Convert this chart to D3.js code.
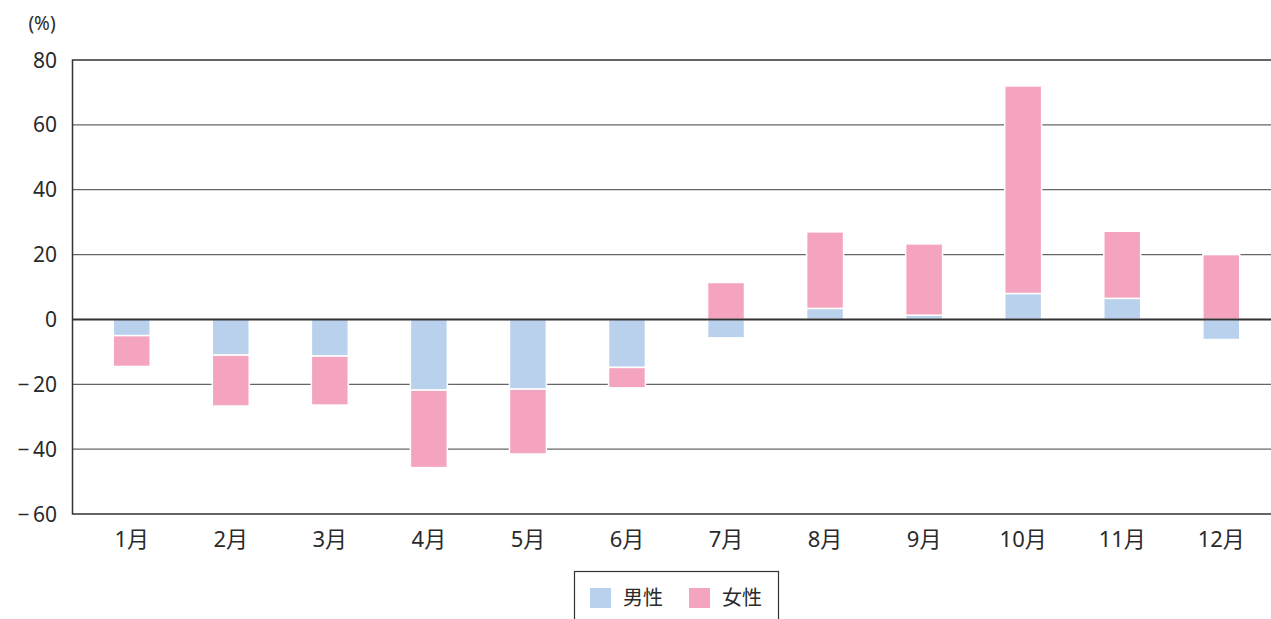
<!DOCTYPE html>
<html>
<head>
<meta charset="utf-8">
<script src="https://cdn.jsdelivr.net/npm/d3@7"></script>
<style>
  body { margin: 0; background: #fff; }
  svg { display: block; font-family: "Noto Sans", "Noto Sans CJK JP", sans-serif; }
</style>
</head>
<body>
<svg id="chart" width="1271" height="619"></svg>
<script>
// data
var months = ["1月", "2月", "3月", "4月", "5月", "6月", "7月", "8月", "9月", "10月", "11月", "12月"];
var male = [-5, -11, -11.3, -21.8, -21.5, -14.8, -5.7, 3.4, 1.3, 8, 6.5, -6.2];
var female = [-9.5, -15.7, -15.1, -23.9, -20, -6.3, 11.4, 23.6, 22, 64, 20.7, 20];
var yTicks = [80, 60, 40, 20, 0, -20, -40, -60];
var seriesNames = ["男性", "女性"];

var colors = { "男性": "#bad1ed", "女性": "#f5a4c0" };

var svg = d3.select("#chart");
// plot box (window.top is reserved, so no plain "top")
var plotLeft = 72.5, plotTop = 60, plotBottom = 514, plotRight = 1271;

var y = d3.scaleLinear().domain([-60, 80]).range([plotBottom, plotTop]);
var x = d3.scaleBand().domain(months).range([82.2, 1270.8]).paddingInner(0.627).paddingOuter(0.3135);

// gridlines
svg.append("g").selectAll("line")
  .data(yTicks.filter(function(d) { return d != 0 && d != 80 && d != -60; }))
  .enter().append("line")
  .attr("x1", plotLeft).attr("x2", plotRight)
  .attr("y1", function(d) { return y(d); })
  .attr("y2", function(d) { return y(d); })
  .attr("stroke", "#666")
  .attr("stroke-width", 1.2);

// stacked bars (diverging)
var rows = months.map(function(m, i) { return { month: m, "男性": male[i], "女性": female[i] }; });
var stack = d3.stack().keys(seriesNames).offset(d3.stackOffsetDiverging);
var layers = stack(rows);

svg.append("g").selectAll("g")
  .data(layers)
  .enter().append("g")
  .attr("fill", function(d) { return colors[d.key]; })
  .selectAll("rect")
  .data(function(d) { return d; })
  .enter().append("rect")
  .attr("x", function(d) { return x(d.data.month); })
  .attr("width", x.bandwidth())
  .attr("y", function(d) { return y(Math.max(d[0], d[1])); })
  .attr("height", function(d) { return Math.abs(y(d[0]) - y(d[1])); })
  .attr("stroke", "#fff")
  .attr("stroke-width", 1.5);

// zero line
svg.append("line")
  .attr("x1", plotLeft).attr("x2", plotRight)
  .attr("y1", y(0)).attr("y2", y(0))
  .attr("stroke", "#333").attr("stroke-width", 2);

// frame
svg.append("path")
  .attr("d", "M" + plotRight + "," + plotTop + "H" + plotLeft + "V" + plotBottom + "H" + plotRight)
  .attr("fill", "none")
  .attr("stroke", "#333")
  .attr("stroke-width", 1.5);

// y labels
svg.append("g").selectAll("text")
  .data(yTicks)
  .enter().append("text")
  .attr("x", 57)
  .attr("y", function(d) { return y(d); })
  .attr("dy", "0.36em")
  .attr("text-anchor", "end")
  .attr("font-size", 21)
  .attr("fill", "#2a2a2a")
  .text(function(d) { return d < 0 ? "\u2212\u2009" + Math.abs(d) : d; });

svg.append("text")
  .attr("x", 42).attr("y", 30)
  .attr("text-anchor", "middle")
  .attr("font-size", 19)
  .attr("fill", "#2a2a2a")
  .text("(%)");

// x labels
svg.append("g").selectAll("text")
  .data(months)
  .enter().append("text")
  .attr("x", function(d) { return x(d) + x.bandwidth() / 2; })
  .attr("y", 547)
  .attr("text-anchor", "middle")
  .attr("font-size", 22)
  .attr("fill", "#2a2a2a")
  .text(function(d) { return d; });

// legend
var legend = svg.append("g");
legend.append("rect")
  .attr("x", 574.5).attr("y", 571.5)
  .attr("width", 204).attr("height", 60)
  .attr("fill", "none").attr("stroke", "#333").attr("stroke-width", 1.2);

var item = legend.selectAll("g.item")
  .data(seriesNames)
  .enter().append("g")
  .attr("class", "item")
  .attr("transform", function(d, i) { return "translate(" + (590 + i * 99) + ",588)"; });

item.append("rect")
  .attr("width", 21).attr("height", 20)
  .attr("fill", function(d) { return colors[d]; });

item.append("text")
  .attr("x", 33).attr("y", 10)
  .attr("dy", "0.36em")
  .attr("font-size", 20)
  .attr("fill", "#2a2a2a")
  .text(function(d) { return d; });
</script>
</body>
</html>
